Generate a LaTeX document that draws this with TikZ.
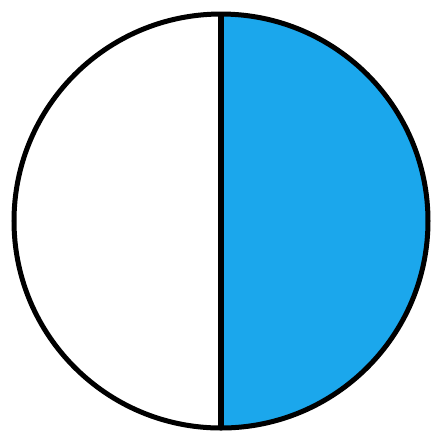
\documentclass[tikz,border=0pt]{standalone}
\usepackage{xcolor}
\usepackage{tikz}
\usetikzlibrary{positioning,calc}
\definecolor{halfblue}{RGB}{27,167,236}
\begin{document}
\begin{tikzpicture}[x=0.01cm, y=0.01cm, line width=0.05cm]
    \useasboundingbox (0,0) rectangle (433,432);
    \coordinate (centre) at (221,211);
    % right half filled
    \fill[halfblue] ($(centre)+(0,207)$) arc[start angle=90, end angle=-90, radius=207] -- cycle;
    \draw (centre) circle[radius=207];
    \draw ($(centre)+(0,207)$) -- ($(centre)+(0,-207)$);
\end{tikzpicture}
\end{document}
